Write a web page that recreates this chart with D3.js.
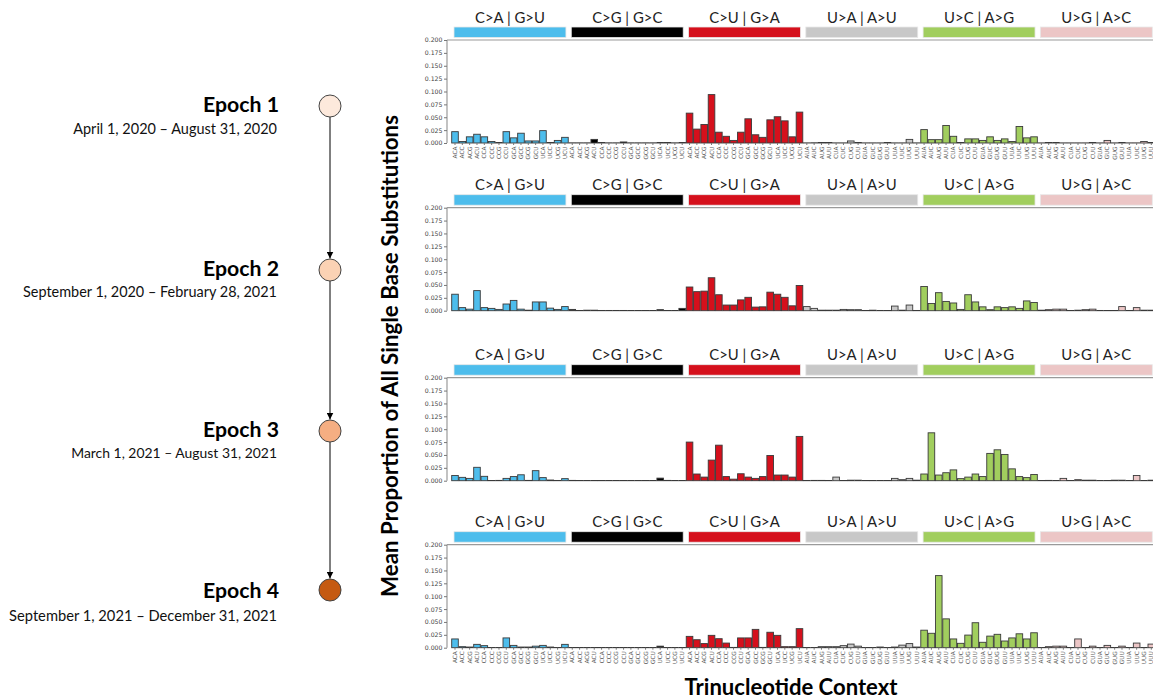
<!DOCTYPE html>
<html><head><meta charset="utf-8">
<script src="https://cdn.jsdelivr.net/npm/d3@7"></script>
<style>body{margin:0;background:#fff}svg{display:block}</style>
</head><body>
<script>
const groups = ["C>A | G>U","C>G | G>C","C>U | G>A","U>A | A>U","U>C | A>G","U>G | A>C"];
const groupColors = ["#4dbdec","#000000","#d5101c","#c8c8c8","#a1ce5e","#ecc6c6"];
const cContexts = ["ACA","ACC","ACG","ACU","CCA","CCC","CCG","CCU","GCA","GCC","GCG","GCU","UCA","UCC","UCG","UCU"];
const uContexts = ["AUA","AUC","AUG","AUU","CUA","CUC","CUG","CUU","GUA","GUC","GUG","GUU","UUA","UUC","UUG","UUU"];
const yTicks = [0,0.025,0.05,0.075,0.1,0.125,0.15,0.175,0.2];
const epochNames = ["Epoch 1","Epoch 2","Epoch 3","Epoch 4"];
const epochDates = ["April 1, 2020 \u2013 August 31, 2020","September 1, 2020 \u2013 February 28, 2021","March 1, 2021 \u2013 August 31, 2021","September 1, 2021 \u2013 December 31, 2021"];
const epochColors = ["#fde9dc","#fbd2b4","#f5ae82","#c55a11"];

const epoch1 = [
0.022,0.003,0.012,0.017,0.012,0.003,0.001,0.022,0.010,0.019,0.004,0.004,0.024,0.001,0.005,0.011,
0.0003,0.0003,0.0003,0.007,0.001,0.0003,0.0003,0.002,0.0003,0.0003,0.0003,0.0003,0.001,0.001,0.0003,0.001,
0.058,0.027,0.036,0.094,0.021,0.013,0.005,0.021,0.047,0.016,0.011,0.045,0.051,0.043,0.012,0.060,
0.0003,0.0005,0.001,0.001,0.0003,0.0003,0.004,0.001,0.0003,0.0003,0.0003,0.001,0.0003,0.0003,0.007,0.0003,
0.026,0.0065,0.0065,0.034,0.013,0.001,0.008,0.008,0.005,0.012,0.005,0.008,0.003,0.032,0.010,0.012,
0.0003,0.001,0.001,0.0003,0.0003,0.0003,0.0003,0.001,0.0003,0.005,0.0003,0.001,0.0003,0.0003,0.003,0.001];
const epoch2 = [
0.032,0.006,0.003,0.039,0.006,0.0045,0.0025,0.013,0.020,0.003,0.001,0.017,0.017,0.005,0.0025,0.008,
0.0025,0.0005,0.001,0.001,0.0005,0.0005,0.0005,0.0005,0.0003,0.0003,0.0003,0.0003,0.002,0.0003,0.0003,0.0045,
0.046,0.037,0.038,0.064,0.031,0.011,0.011,0.021,0.026,0.007,0.0075,0.036,0.032,0.026,0.0095,0.049,
0.008,0.0045,0.001,0.001,0.001,0.0025,0.002,0.002,0.0005,0.001,0.0005,0.0003,0.009,0.001,0.011,0.0005,
0.047,0.014,0.035,0.018,0.015,0.0025,0.031,0.017,0.0075,0.002,0.0075,0.006,0.0075,0.0045,0.019,0.016,
0.001,0.002,0.003,0.003,0.0005,0.001,0.002,0.003,0.0005,0.0003,0.0003,0.008,0.0005,0.006,0.001,0.001];
const epoch3 = [
0.010,0.0065,0.0045,0.026,0.0085,0.0003,0.0006,0.0045,0.008,0.0115,0.0006,0.0195,0.006,0.0013,0.0005,0.004,
0.0006,0.0003,0.0003,0.0003,0.0003,0.0003,0.0003,0.0003,0.0003,0.0003,0.0003,0.0003,0.005,0.0006,0.0003,0.0003,
0.075,0.013,0.007,0.040,0.069,0.008,0.003,0.0135,0.007,0.0045,0.008,0.049,0.011,0.011,0.007,0.086,
0.0005,0.0006,0.0006,0.0005,0.007,0.0003,0.001,0.001,0.0003,0.0003,0.0003,0.0003,0.0045,0.002,0.0045,0.001,
0.013,0.093,0.011,0.0155,0.021,0.004,0.007,0.013,0.008,0.053,0.060,0.051,0.023,0.008,0.006,0.012,
0.0003,0.0006,0.0003,0.0045,0.0003,0.002,0.001,0.001,0.0003,0.0003,0.001,0.001,0.0003,0.010,0.0003,0.001];
const epoch4 = [
0.017,0.002,0.0013,0.0065,0.004,0.0003,0.0003,0.019,0.0045,0.0013,0.0013,0.003,0.0045,0.0013,0.0003,0.0065,
0.0003,0.0003,0.0003,0.0003,0.0003,0.0003,0.0003,0.0003,0.0003,0.0003,0.0003,0.0003,0.003,0.0003,0.0003,0.0003,
0.022,0.0155,0.008,0.024,0.0175,0.009,0.0006,0.019,0.019,0.0356,0.0006,0.030,0.024,0.002,0.002,0.037,
0.0003,0.0003,0.002,0.002,0.002,0.004,0.007,0.003,0.0003,0.0003,0.0013,0.0003,0.0013,0.005,0.008,0.0013,
0.034,0.028,0.140,0.056,0.017,0.0085,0.0245,0.0485,0.0105,0.0225,0.026,0.013,0.019,0.027,0.017,0.029,
0.0003,0.002,0.003,0.003,0.0003,0.017,0.0003,0.003,0.0003,0.0045,0.0003,0.003,0.0003,0.009,0.0003,0.007];
const epochs = [epoch1, epoch2, epoch3, epoch4];

const labels = [].concat(cContexts, cContexts, cContexts, uContexts, uContexts, uContexts);
const W = 1153, H = 700;
const svg = d3.select("body").append("svg").attr("width", W).attr("height", H);
const defs = svg.append("defs");
defs.append("marker").attr("id","arr").attr("viewBox","0 0 10 10").attr("refX",10).attr("refY",5)
  .attr("markerWidth",7).attr("markerHeight",7).attr("orient","auto")
  .append("path").attr("d","M0,0 L10,5 L0,10 z").attr("fill","#000");

const FONT = "Lato, 'Open Sans', sans-serif";
function fit(sel, target) {
  const n = sel.node();
  const fs = parseFloat(sel.attr("font-size"));
  const len = n.getComputedTextLength();
  if (len > 0) sel.attr("font-size", (fs * target / len).toFixed(2));
  return parseFloat(sel.attr("font-size"));
}

const probe = svg.append("text").attr("font-family", FONT).attr("font-size", 13).text(groups[0]);
const headerFS = fit(probe, 70);
probe.remove();

// ---- bar panels ----
const x = d3.scaleBand().domain(d3.range(96)).range([449.5, 1156.8]).paddingInner(0.1).paddingOuter(0.3);
const panelTops = [40, 207.7, 377.7, 544.7];
const panelH = 103;
const axisX = 447;

panelTops.forEach((T, p) => {
  const data = epochs[p];
  const y = d3.scaleLinear().domain([0, 0.2]).range([T + panelH, T]);
  const g = svg.append("g");

  groups.forEach((name, gi) => {
    const x0 = x(gi * 16), x1 = x(gi * 16 + 15) + x.bandwidth();
    g.append("rect").attr("x", x0 + 2.3).attr("y", T - 13).attr("width", x1 - x0 - 4.6).attr("height", 10.5)
      .attr("fill", groupColors[gi]).attr("stroke", "#e8e8e8").attr("stroke-width", 0.8);
    g.append("text").attr("x", (x0 + x1) / 2).attr("y", T - 17.5).attr("text-anchor", "middle")
      .attr("font-family", FONT).attr("font-size", headerFS).attr("fill", "#222").text(name);
  });

  g.append("line").attr("x1", axisX).attr("x2", W).attr("y1", T).attr("y2", T)
    .attr("stroke", "#9a9a9a").attr("stroke-width", 1.2);
  g.append("line").attr("x1", axisX).attr("x2", axisX).attr("y1", T).attr("y2", T + panelH)
    .attr("stroke", "#9a9a9a").attr("stroke-width", 1.2);

  g.append("g").selectAll("rect").data(data).join("rect")
    .attr("x", (d, i) => x(i)).attr("width", x.bandwidth())
    .attr("y", d => y(d)).attr("height", d => y(0) - y(d))
    .attr("fill", (d, i) => groupColors[Math.floor(i / 16)])
    .attr("stroke", "#3a3a3a").attr("stroke-width", 0.9);

  const ya = g.append("g").attr("transform", `translate(${axisX},0)`)
    .call(d3.axisLeft(y).tickValues(yTicks).tickFormat(d3.format(".3f")).tickSize(3).tickPadding(1.5));
  ya.select(".domain").remove();
  ya.selectAll("line").attr("stroke", "#777");
  ya.selectAll("text").attr("font-family", "DejaVu Sans").attr("font-size", 6.2).attr("fill", "#444");

  if (p === 1 || p === 2) {
    defs.append("clipPath").attr("id", "clip" + p).append("rect")
      .attr("x", 430).attr("y", T + panelH).attr("width", 740).attr("height", 9);
  }
  const xa = g.append("g").attr("transform", `translate(0,${T + panelH})`)
    .call(d3.axisBottom(x).tickFormat(i => labels[i]).tickSize(2));
  if (p === 1 || p === 2) xa.attr("clip-path", `url(#clip${p})`);
  xa.select(".domain").remove();
  xa.selectAll("line").attr("stroke", "#777");
  xa.selectAll("text").attr("font-family", "DejaVu Sans").attr("font-size", 5.8).attr("fill", "#555")
    .attr("transform", "rotate(-90)").attr("text-anchor", "end").attr("x", -3.5).attr("y", 0).attr("dy", "0.35em");
});

// ---- timeline ----
const circY = [106, 270, 431, 590];
const cx = 330, r = 11;
for (let i = 0; i < 3; i++) {
  svg.append("line").attr("x1", cx).attr("x2", cx).attr("y1", circY[i] + r).attr("y2", circY[i + 1] - r - 0.5)
    .attr("stroke", "#000").attr("stroke-width", 1).attr("marker-end", "url(#arr)");
}
circY.forEach((cy, i) => {
  svg.append("circle").attr("cx", cx).attr("cy", cy).attr("r", r)
    .attr("fill", epochColors[i]).attr("stroke", "#444").attr("stroke-width", 1);
});

const titleY = [112, 276, 437, 598];
const dateY = [134, 297, 458, 621];
const dateW = [204, 254, 206, 268];
epochNames.forEach((n, i) => {
  const t = svg.append("text").attr("x", 279).attr("y", titleY[i]).attr("text-anchor", "end")
    .attr("font-family", FONT).attr("font-weight", "bold").attr("font-size", 20).attr("fill", "#000").text(n);
  fit(t, 76);
  const d = svg.append("text").attr("x", 277).attr("y", dateY[i]).attr("text-anchor", "end")
    .attr("font-family", FONT).attr("font-size", 13).attr("fill", "#111").text(epochDates[i]);
  fit(d, dateW[i]);
});

const yl = svg.append("text").attr("transform", "translate(398,356) rotate(-90)").attr("text-anchor", "middle")
  .attr("font-family", FONT).attr("font-weight", "bold").attr("font-size", 20).attr("fill", "#000")
  .text("Mean Proportion of All Single Base Substitutions");
fit(yl, 482);
const xl = svg.append("text").attr("x", 791).attr("y", 695).attr("text-anchor", "middle")
  .attr("font-family", FONT).attr("font-weight", "bold").attr("font-size", 20).attr("fill", "#000")
  .text("Trinucleotide Context");
fit(xl, 213);
</script>
</body></html>
